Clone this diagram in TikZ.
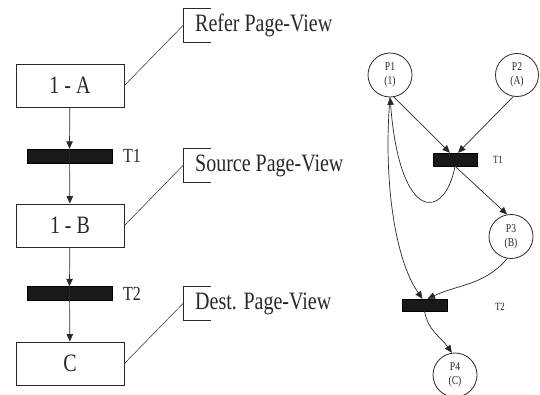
\documentclass[tikz,border=0pt]{standalone}
\usepackage{fontspec}
\setmainfont{Liberation Serif}[FakeStretch=0.8]
\usepackage{xcolor}
\usepackage{tikz}
\usetikzlibrary{arrows.meta}
\definecolor{inkgray}{RGB}{40,40,40}

\begin{document}
\begin{tikzpicture}[x=1pt,y=1pt,
  stage/.style={draw=inkgray,line width=0.9pt,minimum width=108pt,minimum height=43pt,inner sep=0pt,text=inkgray,font=\fontsize{25}{28}\selectfont},
  bar/.style={fill=black!90,draw=black,minimum width=85pt,minimum height=14pt,inner sep=0pt},
  smallbar/.style={fill=black!90,draw=black,minimum width=44pt,minimum height=13pt,inner sep=0pt},
  callout/.style={anchor=west,minimum height=33pt,inner xsep=12pt,inner ysep=0pt,text=inkgray,font=\fontsize{25}{28}\selectfont},
  place/.style={circle,draw=inkgray,line width=0.8pt,minimum size=44pt,inner sep=0pt,align=center,text=inkgray,font=\fontsize{12}{14}\selectfont},
  flow/.style={-{Triangle[length=7.5pt,width=6.5pt]},line width=0.7pt,inkgray}]
  \useasboundingbox (0,0) rectangle (540,394);
  % page-view chain
  \node[stage] (ra) at (70,308.5) {1 - A};
  \node[bar] (t1) at (69.5,238) {};
  \node[text=inkgray,font=\fontsize{20}{24}\selectfont] (t1lab) at (132,238) {T1};
  \node[stage] (rb) at (70,168.5) {1 - B};
  \node[bar] (t2) at (69.5,100.5) {};
  \node[text=inkgray,font=\fontsize{20}{24}\selectfont] (t2lab) at (132,100) {T2};
  \node[stage] (rc) at (70,30.5) {C};
  \draw[flow] (ra) -- (t1.north);
  \draw[flow] (t1.north) -- (rb);
  \draw[flow] (rb) -- (t2.north);
  \draw[flow] (t2.north) -- (rc);
  % callouts
  \node[callout] (refer) at (183,368.5) {Refer Page-View};
  \node[callout] (source) at (183,228.5) {Source Page-View};
  \node[callout] (dest) at (183,90.5) {Dest. Page-View};
  \foreach \c/\b in {refer/ra,source/rb,dest/rc}{
    \draw[inkgray,line width=0.9pt] ([xshift=28pt]\c.north west) -- (\c.north west) -- (\c.south west) -- ([xshift=28pt]\c.south west);
    \draw[inkgray,line width=0.5pt] (\b.east) -- (\c.west);
  }
  % petri net
  \node[place] (p1) at (390,319) {P1\\(1)};
  \node[place,minimum size=43pt] (p2) at (517,319) {P2\\(A)};
  \node[place] (p3) at (511,157.5) {P3\\(B)};
  \node[place] (p4) at (455,19) {P4\\(C)};
  \node[smallbar] (tr1) at (455,234.5) {};
  \node[text=inkgray,font=\fontsize{11}{13}\selectfont] (tr1lab) at (498,234) {T1};
  \node[smallbar,minimum width=45pt,minimum height=12pt] (tr2) at (424.5,89) {};
  \node[text=inkgray,font=\fontsize{11}{13}\selectfont] (tr2lab) at (500,87) {T2};
  \draw[flow] (p1.-80) -- ([xshift=-5pt]tr1.north);
  \draw[flow] (p2.-100) -- ([xshift=3pt]tr1.north);
  \draw[flow] (tr1.south) .. controls (445,174) and (400,169) .. (p1.south);
  \draw[flow] (p1.south) .. controls (383,214) and (395,134) .. ([xshift=-2pt]tr2.north);
  \draw[flow] (tr1.south) -- (p3.100);
  \draw[flow] (p3.260) to[out=-130,in=25] ([xshift=3pt]tr2.north);
  \draw[flow] (tr2.south) to[out=-80,in=125] (p4.98);
\end{tikzpicture}
\end{document}
